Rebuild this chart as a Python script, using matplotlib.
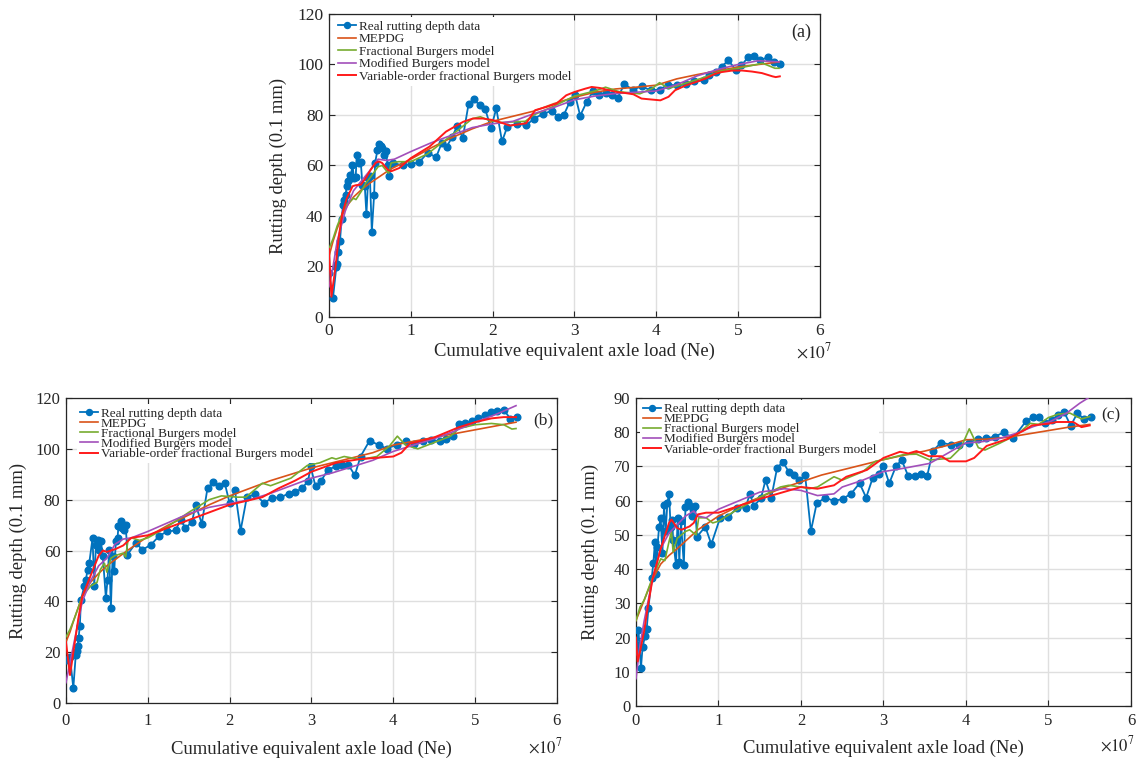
import matplotlib
matplotlib.use("Agg")
import matplotlib.pyplot as plt

plt.rcParams['font.family'] = ['Liberation Serif', 'DejaVu Serif']
plt.rcParams['mathtext.fontset'] = 'stix'

# ---------------- Panel (a) ----------------
a_x = [0, 0.049, 0.09, 0.102, 0.115, 0.135, 0.155, 0.172, 0.184, 0.204, 0.217, 0.237, 0.254, 0.266, 0.286,
       0.307, 0.327, 0.339, 0.368, 0.389, 0.409, 0.438, 0.458, 0.479, 0.5, 0.524, 0.552, 0.564, 0.593, 0.613,
       0.634, 0.654, 0.675, 0.695, 0.716, 0.728, 0.78, 0.908, 1.0, 1.104, 1.207, 1.309, 1.378, 1.44, 1.505,
       1.566, 1.636, 1.706, 1.771, 1.84, 1.91, 1.98, 2.045, 2.115, 2.18, 2.3, 2.41, 2.51, 2.62, 2.72, 2.8,
       2.87, 2.94, 3.01, 3.07, 3.15, 3.23, 3.30, 3.38, 3.46, 3.53, 3.61, 3.71, 3.82, 3.93, 4.04, 4.14, 4.25,
       4.36, 4.46, 4.58, 4.65, 4.73, 4.80, 4.88, 4.97, 5.04, 5.12, 5.2, 5.27, 5.36, 5.44, 5.51]
a_y = [17.5, 7.5, 19.7, 21, 25.6, 30.1, 39, 44.3, 46.5, 48.5, 51.8, 54, 56.1, 55, 60.3,
       55, 55.3, 64.2, 61, 61.3, 52.4, 51.8, 40.6, 55, 55.7, 33.8, 48.5, 61, 66.2, 68.4,
       67.9, 67.1, 64.2, 65.8, 60.3, 55.7, 61, 60, 60.5, 61.3, 65.1, 63.2, 68.9, 67.5, 71.2,
       75.6, 71, 84.3, 86.2, 83.9, 82.3, 74.7, 82.6, 69.5, 75.4, 76.5, 76, 78.6, 80.5, 81.6, 79.3,
       80, 85, 87.8, 79.7, 85.2, 89.5, 88.1, 88.7, 88.1, 86.8, 92.3, 90, 91.3, 89.8, 90, 92, 91.7,
       92.1, 93.3, 93.7, 95.7, 97, 99.2, 101.6, 98, 99.6, 102.8, 103.5, 101.6, 102.9, 100.9, 100]

a_mepdg_x = [0, 0.05, 0.1, 0.2, 0.3, 0.4, 0.5, 0.75, 1.0, 1.25, 1.5, 1.75, 2.0, 2.25, 2.5, 2.75, 3.0,
             3.25, 3.5, 3.75, 4.0, 4.25, 4.5, 4.75, 5.0, 5.25, 5.5]
a_mepdg_y = [24, 30, 35, 43, 47.5, 50.5, 53, 58.5, 62.5, 67, 71, 74.5, 77.5, 79.5, 81.5, 84.5, 87,
             89, 90.3, 91, 91.8, 94.3, 96, 97.5, 99, 100, 101]
a_frac_x = [0, 0.05, 0.1, 0.2, 0.3, 0.33, 0.4, 0.45, 0.5, 0.6, 0.65, 0.7, 0.73, 0.76, 0.85, 1.0, 1.2,
            1.5, 1.75, 1.85, 1.95, 2.1, 2.4, 2.5, 2.75, 3.0, 3.25, 3.38, 3.55, 3.8, 3.95, 4.04, 4.15,
            4.35, 4.6, 4.8, 5.0, 5.3, 5.45, 5.5]
a_frac_y = [27, 31, 36, 44, 47, 46.5, 50, 53, 55, 59.5, 60, 58, 57, 61, 61.5, 61.5, 64.5,
            72, 78.5, 79.3, 78, 77, 77.5, 80, 83.5, 87.5, 89.5, 91, 89.2, 88.4, 90.5, 92.8, 90.5,
            92.5, 95, 97.5, 98.5, 100.5, 98.5, 98.5]
a_mod_x = [0, 0.05, 0.1, 0.2, 0.3, 0.4, 0.5, 0.6, 0.7, 0.8, 1.0, 1.25, 1.5, 1.75, 2.0, 2.25, 2.5,
           2.75, 3.0, 3.25, 3.5, 3.75, 4.0, 4.25, 4.5, 4.75, 5.0, 5.25, 5.5]
a_mod_y = [12, 20, 30, 42, 50, 54, 58, 62.5, 62, 62.5, 65.5, 69, 72, 75, 76.5, 77.5, 80.5,
           83, 86, 87.5, 88.5, 89, 89.5, 92, 95.5, 98, 100, 101.5, 101]
a_vo_x = [0, 0.03, 0.08, 0.12, 0.16, 0.22, 0.29, 0.33, 0.39, 0.45, 0.51, 0.57, 0.61, 0.65, 0.72,
          0.76, 0.86, 1.0, 1.23, 1.43, 1.64, 1.76, 1.88, 2.0, 2.13, 2.21, 2.41, 2.52, 2.66, 2.78,
          2.9, 3.0, 3.13, 3.21, 3.31, 3.42, 3.52, 3.62, 3.72, 3.82, 3.95, 4.05, 4.15, 4.23, 4.36,
          4.48, 4.6, 4.72, 4.8, 4.93, 5.05, 5.17, 5.29, 5.42, 5.46, 5.51]
a_vo_y = [27, 8, 19.7, 31.5, 40.6, 47.2, 51.8, 52.2, 52.4, 55, 58.3, 61, 61.6, 61, 58.3,
          57.7, 59, 62.9, 67.5, 73.4, 77.3, 78.6, 78.6, 78, 76.7, 75.8, 76.7, 81.9, 83.2, 84.5,
          87.8, 89.1, 90.4, 91.1, 90.7, 89.8, 89.1, 88.7, 88.2, 86.5, 86.1, 85.8, 87.2, 89.8, 91.7,
          93, 94.4, 96.3, 97, 97.6, 97.6, 97.2, 96.6, 95.3, 95, 95.3]

# ---------------- Panel (b) ----------------
b_x = [0, 0.05, 0.09, 0.12, 0.134, 0.142, 0.154, 0.17, 0.183, 0.224, 0.244, 0.264, 0.285, 0.325,
       0.346, 0.366, 0.386, 0.407, 0.427, 0.45, 0.488, 0.508, 0.528, 0.549, 0.57, 0.59, 0.61, 0.63,
       0.642, 0.67, 0.69, 0.71, 0.73, 0.752, 0.854, 0.935, 1.04, 1.14, 1.24, 1.34, 1.40, 1.46, 1.54,
       1.585, 1.66, 1.73, 1.80, 1.87, 1.94, 2.0, 2.065, 2.134, 2.21, 2.31, 2.42, 2.52, 2.62, 2.72,
       2.80, 2.89, 2.96, 2.99, 3.05, 3.12, 3.2, 3.3, 3.37, 3.45, 3.53, 3.6, 3.71, 3.82, 3.92, 4.04,
       4.15, 4.25, 4.36, 4.46, 4.57, 4.65, 4.73, 4.8, 4.88, 4.96, 5.03, 5.12, 5.2, 5.27, 5.35,
       5.43, 5.51]
b_y = [17, 18, 5.9, 19, 20.3, 22.3, 25.6, 30.4, 40.7, 45.9, 48.5, 52.5, 55.1, 64.9,
       46.2, 62.3, 64.3, 60.3, 63.6, 58, 41.3, 48.5, 60.3, 37.4, 57.7, 51.8, 63.6, 64.9,
       69.5, 71.5, 68.9, 68.2, 69.9, 58.4, 63, 60.3, 62.3, 65.8, 67.5, 67.9, 72.1, 68.9, 71.2,
       78, 70.6, 84.6, 86.8, 85.2, 86.6, 78.7, 83.7, 67.8, 80.9, 82.2, 78.7, 80.7, 80.9, 82.4,
       82.9, 84.6, 87.5, 93.1, 85.2, 87.5, 91.8, 93.1, 93.8, 93.8, 89.6, 97, 103.2, 101.6, 100.1, 101.6,
       103, 102, 103.2, 103.6, 103, 104, 104.9, 109.8, 110.2, 110.8, 112.1, 113.2, 114.5, 114.8, 115.4,
       111.9, 112.5]

b_mepdg_x = [0, 0.05, 0.1, 0.2, 0.3, 0.4, 0.5, 0.75, 1.0, 1.25, 1.5, 1.75, 2.0, 2.25, 2.5, 2.75, 3.0,
             3.25, 3.5, 3.75, 4.0, 4.25, 4.5, 4.75, 5.0, 5.25, 5.5]
b_mepdg_y = [24, 28, 33, 42, 47.5, 51, 54, 60, 65.5, 70, 74, 78, 81.5, 84.5, 87.5, 90, 92.5,
             94.5, 96.5, 98.5, 101.5, 103, 104.5, 106, 107.5, 109, 110.5]
b_frac_x = [0, 0.05, 0.1, 0.2, 0.3, 0.38, 0.42, 0.47, 0.5, 0.55, 0.6, 0.7, 0.73, 0.76, 0.8, 0.9, 1.0,
            1.2, 1.5, 1.75, 1.9, 2.1, 2.2, 2.4, 2.5, 2.75, 2.95, 3.1, 3.25, 3.3, 3.4, 3.6, 3.8, 3.95,
            4.05, 4.15, 4.3, 4.5, 4.7, 4.8, 5.0, 5.2, 5.35, 5.45, 5.5]
b_frac_y = [26, 29, 33, 42, 46, 47.5, 52.5, 55, 51.5, 57, 58, 59, 57.5, 64.5, 65, 64, 65,
            68.5, 75, 80, 81.5, 81, 81, 86.5, 85.5, 88.5, 93.5, 94.5, 96.5, 96, 97, 95.8, 97, 101,
            105, 101.5, 100, 102.5, 105, 108, 109.5, 110, 109.5, 107.8, 108]
b_mod_x = [0, 0.05, 0.1, 0.2, 0.3, 0.4, 0.5, 0.6, 0.7, 0.8, 1.0, 1.25, 1.5, 1.75, 2.0, 2.25, 2.5,
           2.75, 3.0, 3.25, 3.5, 3.75, 4.0, 4.25, 4.5, 4.75, 5.0, 5.25, 5.5]
b_mod_y = [8, 16, 24, 40, 48, 54, 57, 62.5, 64.5, 65, 67.5, 71, 74.5, 77, 78.5, 80, 82.5,
           85.5, 88.5, 90.5, 93, 95.5, 99, 101.5, 104, 107, 110.5, 113.5, 117]
b_vo_x = [0, 0.05, 0.1, 0.15, 0.2, 0.3, 0.4, 0.45, 0.5, 0.6, 0.7, 0.8, 1.0, 1.5, 2.0, 2.2, 2.4,
          2.6, 2.8, 3.0, 3.3, 3.6, 3.8, 4.0, 4.1, 4.2, 4.5, 4.8, 5.0, 5.2, 5.35, 5.5]
b_vo_y = [24, 11, 22, 33, 42, 50, 58, 60, 59.5, 60.5, 62, 65, 66, 72, 78, 79.5, 81,
          84.5, 87.5, 91, 94.5, 96, 96.5, 97, 98.5, 102, 104.5, 108.5, 110.5, 112, 112.5, 112.5]

# ---------------- Panel (c) ----------------
c_x = [0.0, 0.01, 0.03, 0.06, 0.08, 0.11, 0.13, 0.15, 0.19, 0.21, 0.23, 0.245, 0.26, 0.28, 0.30,
       0.32, 0.34, 0.36, 0.38, 0.40, 0.42, 0.44, 0.45, 0.485, 0.505, 0.525, 0.545, 0.58, 0.6, 0.626,
       0.646, 0.675, 0.695, 0.715, 0.74, 0.84, 0.913, 1.02, 1.12, 1.23, 1.33, 1.38, 1.43, 1.515,
       1.57, 1.64, 1.71, 1.78, 1.85, 1.92, 1.98, 2.05, 2.12, 2.19, 2.295, 2.40, 2.505, 2.61, 2.71,
       2.79, 2.87, 2.94, 3.0, 3.07, 3.15, 3.22, 3.30, 3.38, 3.45, 3.53, 3.60, 3.70, 3.82, 3.92,
       4.04, 4.14, 4.24, 4.35, 4.46, 4.57, 4.73, 4.81, 4.88, 4.96, 5.04, 5.12, 5.19, 5.27, 5.35,
       5.43, 5.51]
c_y = [16, 17.8, 22.1, 11.1, 17.3, 20.5, 22.6, 28.5, 37.3, 41.7, 48, 38.7, 46.5, 52.4, 54.8,
       44.6, 58.7, 51, 59.2, 62.1, 52.4, 54.3, 48.5, 41.2, 54.8, 42.1, 54, 41.2, 58.2, 59.5,
       58.7, 55.6, 58, 58.5, 49.5, 52.4, 47.3, 55, 55.3, 58, 58, 62.1, 58.5, 60.7,
       66, 60.9, 69.5, 71.4, 68.5, 67.5, 66, 67.5, 51.1, 59.2, 60.9, 59.9, 60.5, 62.1, 65.1,
       60.9, 66.7, 67.7, 70.2, 65.1, 70, 71.9, 67.2, 67.2, 67.7, 67.3, 74.6, 77, 76.3, 76.3,
       77, 78, 78.2, 78.7, 80, 78.2, 83.3, 84.4, 84.4, 82.8, 83.6, 84.9, 85.9, 81.9, 85.6,
       83.9, 84.4]

c_mepdg_x = [0, 0.05, 0.1, 0.2, 0.3, 0.4, 0.5, 0.75, 1.0, 1.25, 1.5, 1.75, 2.0, 2.25, 2.5, 2.75, 3.0,
             3.25, 3.5, 3.75, 4.0, 4.25, 4.5, 4.75, 5.0, 5.25, 5.5]
c_mepdg_y = [25, 28, 31, 37, 41.5, 44, 46, 51.5, 55.5, 58.5, 61, 63.5, 65.5, 67.5, 69, 70.5, 72,
             73.3, 74.5, 76, 77.8, 78, 78.5, 79.5, 80.5, 81.5, 82.3]
c_frac_x = [0, 0.05, 0.1, 0.2, 0.3, 0.35, 0.4, 0.43, 0.45, 0.5, 0.6, 0.65, 0.7, 0.73, 0.76, 0.85,
            0.93, 1.0, 1.2, 1.5, 1.75, 1.85, 2.0, 2.1, 2.2, 2.4, 2.5, 2.75, 2.9, 3.0, 3.25, 3.4,
            3.56, 3.81, 3.94, 4.04, 4.15, 4.23, 4.41, 4.61, 4.78, 4.88, 5.0, 5.12, 5.26, 5.4, 5.5]
c_frac_y = [25, 29, 31, 37.5, 43, 42.5, 48, 51, 45, 49, 51, 51.5, 50.5, 50, 55, 55,
            53.5, 54, 57, 61, 64, 64.5, 64, 63.5, 64, 67, 66, 68.5, 71.5, 72, 73.5, 73.6,
            71.9, 72.4, 75.5, 81, 75.5, 74.8, 76.8, 79.2, 82.6, 82.3, 84.3, 85.3, 85.6, 83.9, 84.6]
c_mod_x = [0, 0.05, 0.1, 0.2, 0.3, 0.4, 0.5, 0.6, 0.7, 0.75, 0.85, 1.0, 1.2, 1.5, 1.8, 2.0, 2.2,
           2.4, 2.5, 2.75, 3.0, 3.25, 3.56, 3.81, 3.99, 4.21, 4.41, 4.61, 4.82, 5.02, 5.22, 5.38, 5.48]
c_mod_y = [8, 18, 25, 37, 46, 50.5, 53, 55.5, 57, 55.5, 55, 57.5, 59.5, 62.5, 63.5, 63, 61.5,
           62, 64, 66, 68.5, 69.5, 70.9, 74.3, 76.8, 77.3, 78.2, 79.7, 81.7, 83.1, 85.6, 88.5, 90]
c_vo_x = [0, 0.02, 0.05, 0.1, 0.15, 0.2, 0.3, 0.4, 0.43, 0.5, 0.55, 0.65, 0.7, 0.75, 0.85, 1.0,
          1.5, 2.0, 2.2, 2.4, 2.55, 2.8, 3.0, 3.2, 3.3, 3.4, 3.55, 3.7, 3.8, 4.0, 4.1, 4.25, 4.5,
          4.7, 4.8, 5.0, 5.1, 5.3, 5.4, 5.5]
c_vo_y = [20, 13, 16, 22, 30, 37, 46, 53.5, 54.5, 52, 51.5, 52.5, 53.5, 56, 56.5, 56.5,
          60.5, 64, 63.5, 64.5, 67, 69, 72.5, 74.3, 73.8, 74.5, 73, 73, 71.5, 71.5, 72.5, 76, 78,
          80.5, 82, 82.5, 83, 83, 81.5, 82]

labels = ['Real rutting depth data', 'MEPDG', 'Fractional Burgers model',
          'Modified Burgers model', 'Variable-order fractional Burgers model']
x_ticks = [0, 1, 2, 3, 4, 5, 6]

C_BLUE = '#0072BD'
C_ORANGE = '#D95319'
C_GREEN = '#77AC30'
C_PURPLE = '#A24FBA'
C_RED = '#FF1A1A'
TXT = '#262626'

fig = plt.figure(figsize=(11.41, 7.64), dpi=100)


def panel(rect, data, ylim, yticks, tag, tagpos, tick_fs, leg_fs, leg_anchor, leg_sp,
          xlabel_y, ylabel_x, x10_pos, xpad, lab_fs=13.4):
    ax = fig.add_axes(rect)
    (rx, ry, mex, mey, frx, fry, mox, moy, vox, voy) = data
    ax.plot(rx, ry, '-o', color=C_BLUE, lw=1.3, ms=4.8, label=labels[0], zorder=3)
    ax.plot(mex, mey, '-', color=C_ORANGE, lw=1.2, label=labels[1], zorder=4)
    ax.plot(frx, fry, '-', color=C_GREEN, lw=1.2, label=labels[2], zorder=4)
    ax.plot(mox, moy, '-', color=C_PURPLE, lw=1.2, label=labels[3], zorder=4)
    ax.plot(vox, voy, '-', color=C_RED, lw=1.4, label=labels[4], zorder=5)
    ax.set_xlim(0, 6)
    ax.set_ylim(*ylim)
    ax.set_xticks(x_ticks)
    ax.set_yticks(yticks)
    ax.grid(True, color='#DFDFDF', lw=1.0)
    ax.set_axisbelow(True)
    for s in ax.spines.values():
        s.set_color(TXT)
        s.set_linewidth(0.9)
    ax.tick_params(direction='in', top=True, right=True, length=4, width=0.8,
                   labelsize=tick_fs, colors=TXT)
    ax.tick_params(axis='x', pad=xpad)
    ax.tick_params(axis='y', pad=4)
    ax.set_xlabel('Cumulative equivalent axle load (Ne)', fontsize=lab_fs, color=TXT)
    ax.set_ylabel('Rutting depth (0.1 mm)', fontsize=lab_fs, color=TXT)
    ax.xaxis.set_label_coords(0.5, xlabel_y)
    ax.yaxis.set_label_coords(ylabel_x, 0.5)
    ax.text(x10_pos[0], x10_pos[1], r'$\times10^{7}$', transform=ax.transAxes,
            ha='right', va='center', fontsize=tick_fs, color=TXT)
    ax.text(tagpos[0], tagpos[1], tag, transform=ax.transAxes, ha='center', va='center',
            fontsize=tick_fs + 0.5, color=TXT)
    leg = ax.legend(loc='upper left', bbox_to_anchor=leg_anchor, fontsize=leg_fs,
                    handlelength=1.35, handletextpad=0.2, labelspacing=leg_sp,
                    borderpad=0.25, borderaxespad=0.0, frameon=True, fancybox=False,
                    numpoints=1, markerscale=0.9)
    leg.get_frame().set_facecolor('white')
    leg.get_frame().set_edgecolor('none')
    leg.get_frame().set_alpha(1.0)
    for t in leg.get_texts():
        t.set_color(TXT)
    return ax


panel([0.2883, 0.5851, 0.4303, 0.3966],
      (a_x, a_y, a_mepdg_x, a_mepdg_y, a_frac_x, a_frac_y, a_mod_x, a_mod_y, a_vo_x, a_vo_y),
      (0, 120), [0, 20, 40, 60, 80, 100, 120], '(a)', (0.962, 0.94), 12.5, 9.5,
      (0.012, 0.99), 0.03, -0.085, -0.085, (1.025, -0.116), 4)

panel([0.0578, 0.0798, 0.4303, 0.3992],
      (b_x, b_y, b_mepdg_x, b_mepdg_y, b_frac_x, b_frac_y, b_mod_x, b_mod_y, b_vo_x, b_vo_y),
      (0, 120), [0, 20, 40, 60, 80, 100, 120], '(b)', (0.972, 0.928), 12, 9.5,
      (0.022, 0.98), -0.16, -0.125, -0.079, (1.012, -0.144), 7)

panel([0.5574, 0.0759, 0.4338, 0.4031],
      (c_x, c_y, c_mepdg_x, c_mepdg_y, c_frac_x, c_frac_y, c_mod_x, c_mod_y, c_vo_x, c_vo_y),
      (0, 90), [0, 10, 20, 30, 40, 50, 60, 70, 80, 90], '(c)', (0.96, 0.945), 12, 9.5,
      (0.008, 0.995), -0.16, -0.11, -0.075, (1.008, -0.127), 5)

fig.savefig('out.png', dpi=100)
